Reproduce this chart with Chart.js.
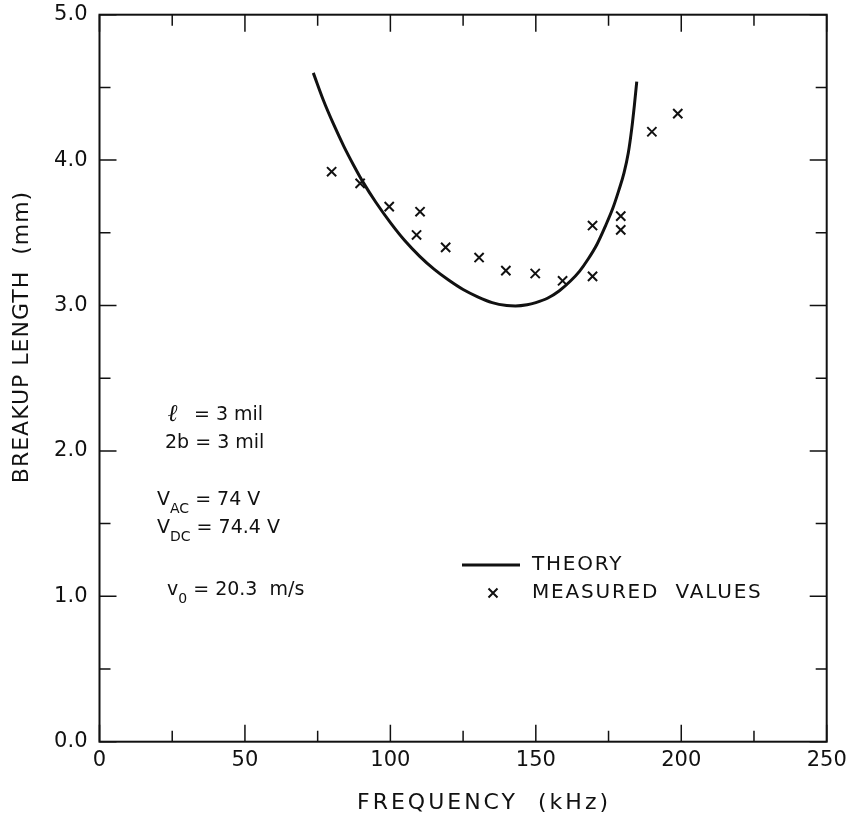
<!DOCTYPE html>
<html>
<head>
<meta charset="utf-8">
<title>Breakup length vs frequency</title>
<script src="https://cdn.jsdelivr.net/npm/chart.js@4.4.1/dist/chart.umd.min.js"></script>
<style>
  html, body { margin: 0; padding: 0; background: #fff; }
  #wrap { width: 848px; height: 819px; }
</style>
</head>
<body>
<div id="wrap"><canvas id="chart" width="848" height="819"></canvas></div>
<script>
'use strict';

// ── Data ──────────────────────────────────────────────────────
const theoryFreq = [73.5, 77, 80.5, 84, 87.5, 90.7, 95, 100, 105, 110, 115, 120, 125, 130, 135, 140,
                    143, 147, 150, 154, 158, 162, 165, 168, 171, 174, 176.5, 178.5, 180.3, 181.8, 183.0, 183.9, 184.7];
const theoryLen  = [4.60, 4.41, 4.245, 4.095, 3.96, 3.845, 3.71, 3.57, 3.445, 3.34, 3.25, 3.175, 3.11, 3.06, 3.02, 3.0,
                    2.997, 3.005, 3.02, 3.05, 3.10, 3.17, 3.235, 3.32, 3.42, 3.55, 3.67, 3.79, 3.91, 4.05, 4.22, 4.38, 4.54];

const measuredFreq = [79.8, 89.6, 99.6, 110.2, 109, 119, 130.5, 139.7, 149.8, 159.2, 169.5, 169.5, 179.2, 179.2, 189.9, 198.8];
const measuredLen  = [3.92, 3.84, 3.68, 3.645, 3.485, 3.40, 3.33, 3.24, 3.22, 3.17, 3.55, 3.20, 3.615, 3.52, 4.195, 4.32];

const xTicks = [0, 50, 100, 150, 200, 250];
const yTicks = [0.0, 1.0, 2.0, 3.0, 4.0, 5.0];

const INK  = '#111';
const FONT = "'DejaVu Sans', sans-serif";

const toXY = (xs, ys) => xs.map((x, i) => ({ x, y: ys[i] }));

// keep chart area where the padding puts it (no extra room for edge labels)
const noPad = s => { s.paddingTop = s.paddingBottom = s.paddingLeft = s.paddingRight = 0; };

// ── Frame, inward ticks, titles, legend and notes ─────────────
const decorations = {
  id: 'decorations',
  afterDraw(chart) {
    const { ctx, chartArea: a, scales } = chart;
    const sx = scales.x, sy = scales.y;
    ctx.save();
    ctx.strokeStyle = INK;
    ctx.fillStyle   = INK;

    // frame
    ctx.lineWidth = 2;
    ctx.strokeRect(a.left, a.top, a.right - a.left, a.bottom - a.top);

    // ticks (inward, on all four sides)
    ctx.lineWidth = 1.5;
    ctx.beginPath();
    sx.ticks.forEach(t => {
      const px  = sx.getPixelForValue(t.value);
      const len = xTicks.includes(t.value) ? 17 : 11;
      ctx.moveTo(px, a.bottom); ctx.lineTo(px, a.bottom - len);
      ctx.moveTo(px, a.top);    ctx.lineTo(px, a.top + len);
    });
    sy.ticks.forEach(t => {
      const py  = sy.getPixelForValue(t.value);
      const len = yTicks.includes(t.value) ? 17 : 11;
      ctx.moveTo(a.left, py);  ctx.lineTo(a.left + len, py);
      ctx.moveTo(a.right, py); ctx.lineTo(a.right - len, py);
    });
    ctx.stroke();

    // axis titles
    ctx.font = '22px ' + FONT;
    ctx.letterSpacing = '3px';
    ctx.textAlign = 'center';
    ctx.textBaseline = 'middle';
    ctx.fillText('FREQUENCY  (kHz)', 484, 803);

    ctx.save();
    ctx.translate(22, 337);
    ctx.rotate(-Math.PI / 2);
    ctx.letterSpacing = '1px';
    ctx.fillText('BREAKUP LENGTH  (mm)', 0, 0);
    ctx.restore();

    // legend
    ctx.textAlign = 'left';
    ctx.font = '20px ' + FONT;
    ctx.letterSpacing = '1.8px';
    ctx.lineWidth = 3;
    ctx.beginPath();
    ctx.moveTo(462, 565); ctx.lineTo(520, 565);
    ctx.stroke();
    ctx.fillText('THEORY', 532, 565);
    drawX(ctx, 493, 593, 4.5);
    ctx.fillText('MEASURED  VALUES', 532, 593);

    // parameter notes
    ctx.letterSpacing = '0px';
    ctx.font = 'bold italic 24px DejaVu Serif';
    ctx.fillText('\u2113', 168, 415);
    ctx.font = '19px ' + FONT;
    ctx.fillText('= 3 mil', 194, 415);
    ctx.fillText('2b = 3 mil', 165, 443);

    sub(ctx, 157, 500, 'V', 'AC', ' = 74 V');
    sub(ctx, 157, 528, 'V', 'DC', ' = 74.4 V');
    sub(ctx, 167, 590, 'v', '0', ' = 20.3  m/s');

    ctx.restore();
  }
};

function drawX(ctx, x, y, r) {
  ctx.lineWidth = 2;
  ctx.beginPath();
  ctx.moveTo(x - r, y - r); ctx.lineTo(x + r, y + r);
  ctx.moveTo(x - r, y + r); ctx.lineTo(x + r, y - r);
  ctx.stroke();
}

function sub(ctx, x, y, main, low, rest) {
  ctx.font = '19px ' + FONT;
  ctx.fillText(main, x, y);
  let w = ctx.measureText(main).width;
  ctx.font = '14px ' + FONT;
  ctx.fillText(low, x + w, y + 9);
  w += ctx.measureText(low).width;
  ctx.font = '19px ' + FONT;
  ctx.fillText(rest, x + w, y);
}

// ── Chart ─────────────────────────────────────────────────────
new Chart(document.getElementById('chart'), {
  type: 'scatter',
  data: {
    datasets: [
      {
        label: 'THEORY',
        data: toXY(theoryFreq, theoryLen),
        showLine: true,
        borderColor: INK,
        borderWidth: 3,
        pointRadius: 0,
        cubicInterpolationMode: 'monotone',
        fill: false,
      },
      {
        label: 'MEASURED VALUES',
        data: toXY(measuredFreq, measuredLen),
        pointStyle: 'crossRot',
        pointRadius: 6.5,
        borderColor: INK,
        borderWidth: 2,
        showLine: false,
      }
    ]
  },
  options: {
    responsive: false,
    animation: false,
    layout: { padding: { top: 14.7, right: 21.3, left: 0, bottom: 0 } },
    plugins: {
      legend: { display: false },
      tooltip: { enabled: false },
    },
    scales: {
      x: {
        type: 'linear',
        min: 0, max: 250,
        afterFit: s => { s.height = 77.3; noPad(s); },
        grid: { display: false, drawTicks: false },
        border: { display: false },
        ticks: {
          stepSize: 25,
          padding: 6,
          color: INK,
          font: { family: FONT, size: 21 },
          maxRotation: 0,
          autoSkip: false,
          callback: v => xTicks.includes(v) ? String(v) : '',
        },
      },
      y: {
        type: 'linear',
        min: 0, max: 5,
        afterFit: s => { s.width = 99.5; noPad(s); },
        grid: { display: false, drawTicks: false },
        border: { display: false },
        ticks: {
          stepSize: 0.5,
          padding: 12,
          color: INK,
          font: { family: FONT, size: 21 },
          autoSkip: false,
          callback: v => yTicks.includes(v) ? v.toFixed(1) : '',
        },
      }
    }
  },
  plugins: [decorations]
});
</script>
</body>
</html>
